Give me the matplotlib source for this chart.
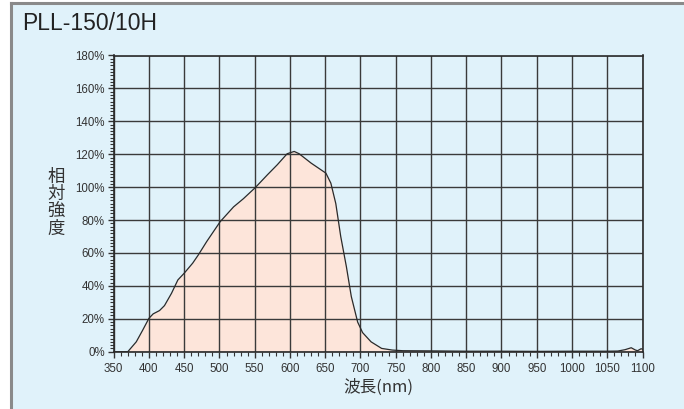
import matplotlib
matplotlib.use("Agg")
import matplotlib.pyplot as plt
from matplotlib.patches import Rectangle
from matplotlib.lines import Line2D
from matplotlib.ticker import MultipleLocator, FuncFormatter

title = "PLL-150/10H"
xlabel = "波長(nm)"
ylabel = "相\n対\n強\n度"

wavelength = [350, 360, 370, 382, 391, 400, 406, 415, 422, 432, 441, 450, 462, 470,
              482, 501, 520, 534, 551, 568, 582, 596, 606, 613, 630, 651, 658, 665,
              672, 680, 687, 696, 703, 715, 730, 745, 760, 800, 850, 900, 950, 1000,
              1050, 1065, 1075, 1084, 1090, 1093, 1098, 1100]
intensity = [0, 0, 0, 6, 13, 20.3, 23, 25, 28, 35.5, 43.6, 47.7, 53.8, 58.8,
             67, 79, 88, 93, 99.8, 107.5, 113.6, 120.3, 121.7, 120.3, 114.6, 108.5, 102.4, 90,
             70, 51.7, 33.5, 18, 11.6, 6, 2, 1.0, 0.6, 0.5, 0.3, 0.3, 0.2, 0.3,
             0.3, 0.4, 1.2, 2.4, 1.0, 0.6, 1.8, 1.5]

xticks = list(range(350, 1101, 50))
yticks = list(range(0, 181, 20))

bg = "#e0f2fa"
fill_c = "#fde5da"
grid_c = "#3a3a3a"
txt_c = "#333333"

W, H = 684, 409
fig = plt.figure(figsize=(W / 100, H / 100), dpi=100)
fig.patch.set_facecolor("white")

# background panel with gray left/top border
fig.patches.append(Rectangle((11 / W, 0), 1 - 11 / W, 1 - 3 / H, transform=fig.transFigure,
                             facecolor=bg, edgecolor="none", zorder=-10))
fig.lines.append(Line2D([11 / W, 11 / W], [0, 1 - 3 / H], transform=fig.transFigure,
                        color="#8a8a8a", lw=2.2, zorder=-5))
fig.lines.append(Line2D([11 / W, 1], [1 - 3 / H, 1 - 3 / H], transform=fig.transFigure,
                        color="#8a8a8a", lw=2.2, zorder=-5))

left, right = 113.7 / W, 642.5 / W
bottom, top = (H - 351.7) / H, (H - 55.5) / H
ax = fig.add_axes([left, bottom, right - left, top - bottom])
ax.set_facecolor(bg)

ax.fill_between(wavelength, intensity, 0, color=fill_c, zorder=1, lw=0)
ax.plot(wavelength, intensity, color="#2a2a2a", lw=0.9, zorder=3)

ax.set_xlim(350, 1100)
ax.set_ylim(0, 180)
ax.set_xticks(xticks)
ax.set_yticks(yticks)
ax.xaxis.set_minor_locator(MultipleLocator(10))
ax.yaxis.set_minor_locator(MultipleLocator(2))
ax.yaxis.set_major_formatter(FuncFormatter(lambda v, p: f"{int(v)}%"))

ax.grid(True, which="major", color=grid_c, lw=1.0, zorder=2)
ax.set_axisbelow(False)
for s in ax.spines.values():
    s.set_color("#2a2a2a")
    s.set_linewidth(1.2)
    s.set_zorder(4)

ax.tick_params(axis="both", which="major", direction="out", length=4, width=1,
               color="#333333", labelsize=8.3, labelcolor=txt_c)
ax.tick_params(axis="both", which="minor", direction="out", length=3, width=0.8,
               color="#333333")
ax.tick_params(axis="x", which="major", pad=4)
ax.tick_params(axis="y", which="major", pad=2.5)
for lab in ax.get_xticklabels() + ax.get_yticklabels():
    lab.set_fontfamily("Liberation Sans")

fig.text(22 / W, 1 - 23 / H, title, fontsize=16.5, color="#222222",
         family="Liberation Sans", ha="left", va="center")
fig.text(56 / W, 1 - 203 / H, ylabel, fontsize=12.5, color=txt_c,
         family=["Noto Sans CJK JP", "DejaVu Sans"], ha="center", va="center",
         linespacing=0.95)
fig.text(378 / W, 1 - 387 / H, xlabel, fontsize=12, color=txt_c,
         family=["Noto Sans CJK JP", "DejaVu Sans"], ha="center", va="center")

fig.savefig("out.png", dpi=100, facecolor=fig.get_facecolor())
